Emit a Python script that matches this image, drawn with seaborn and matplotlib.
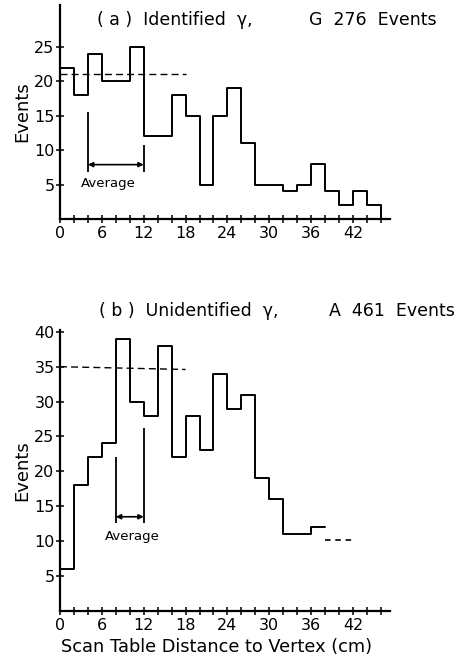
import numpy as np
import pandas as pd
import matplotlib
matplotlib.use("Agg")
import matplotlib.pyplot as plt
import seaborn as sns

# ---- data ----
bin_width = 2
counts_a = [22, 18, 24, 20, 20, 25, 12, 12, 18, 15, 5, 15, 19, 11, 5, 5, 4, 5, 8, 4, 2, 4, 2]
counts_b = [6, 18, 22, 24, 39, 30, 28, 38, 22, 28, 23, 34, 29, 31, 19, 16, 11, 11, 12]
avg_a = [21, 21]            # dashed average level (start, end)
avg_b = [35, 34.6]
avg_span = [0, 18]
tail_b_x = [38, 41.8]       # dashed extrapolation in (b)
tail_b_y = [10.2, 10.2]
xtick_labels = [0, 6, 12, 18, 24, 30, 36, 42]
yticks_a = [5, 10, 15, 20, 25]
yticks_b = [5, 10, 15, 20, 25, 30, 35, 40]
title_a = ("( a )  Identified  γ,", "G  276  Events")
title_b = ("( b )  Unidentified  γ,", "A  461  Events")
xlabel = "Scan Table Distance to Vertex (cm)"
ylabel = "Events"
# average bracket: (left x, left top, right x, right top, bottom, arrow y, text x, text y)
bracket_a = (4, 15.6, 12, 10.8, 6.9, 7.9, 6.9, 5.1)
bracket_b = (8, 22.1, 12, 26.2, 12.6, 13.5, 10.3, 10.7)

sns.set_style("white")
plt.rcParams['font.family'] = ['DejaVu Sans']
plt.rcParams['text.color'] = 'black'
plt.rcParams['axes.labelcolor'] = 'black'
plt.rcParams['xtick.color'] = 'black'
plt.rcParams['ytick.color'] = 'black'
plt.rcParams['lines.scale_dashes'] = False

fig = plt.figure(figsize=(4.57, 6.62), dpi=100)
ax_a = fig.add_axes([60/457, 1-219/662, 330/457, 214/662])
ax_b = fig.add_axes([60/457, 1-611/662, 330/457, (611-330.4)/662])

def step_df(counts):
    edges = np.arange(len(counts) + 1) * bin_width
    y = list(counts) + [counts[-1]]
    return pd.DataFrame({"x": edges, "y": y})

def draw(ax, counts, avg, ylim, yticks, bracket, drop_end):
    df = step_df(counts)
    sns.lineplot(data=df, x="x", y="y", drawstyle="steps-post", estimator=None,
                 sort=False, color="black", lw=1.4, ax=ax)
    if drop_end:
        ax.vlines(df["x"].iloc[-1], 0, counts[-1], color="black", lw=1.4)
    ax.plot(avg_span, avg, color="black", lw=1.0, dashes=(5, 3))
    lx, lt, rx, rt, bot, ay, tx, ty = bracket
    ax.vlines(lx, bot, lt, color="black", lw=1.3)
    ax.vlines(rx, bot, rt, color="black", lw=1.3)
    ax.annotate("", xy=(lx, ay), xytext=(rx, ay),
                arrowprops=dict(arrowstyle="<|-|>", color="black", lw=1.2,
                                mutation_scale=7, shrinkA=0, shrinkB=0))
    ax.text(tx, ty, "Average", ha="center", va="center", fontsize=9.5)
    ax.set_xlim(0, 47.3)
    ax.set_ylim(*ylim)
    ax.set_xticks(xtick_labels)
    ax.set_xticklabels([str(v) for v in xtick_labels])
    ax.set_xticks(np.arange(0, 47, 2), minor=True)
    ax.set_yticks(yticks)
    ax.set_yticklabels([str(v) for v in yticks])
    ax.tick_params(axis="both", which="both", direction="inout", length=6,
                   width=1.1, labelsize=11.5, pad=1, color="black",
                   bottom=True, left=True)
    ax.tick_params(axis="x", which="both", pad=2)
    for s in ["top", "right"]:
        ax.spines[s].set_visible(False)
    for s in ["left", "bottom"]:
        ax.spines[s].set_linewidth(1.6)
        ax.spines[s].set_color("black")
    ax.set_xlabel("")
    ax.set_ylabel(ylabel, fontsize=13, labelpad=2)

draw(ax_a, counts_a, avg_a, (0, 31.1), yticks_a, bracket_a, True)
draw(ax_b, counts_b, avg_b, (0, 40.2), yticks_b, bracket_b, False)
ax_b.plot(tail_b_x, tail_b_y, color="black", lw=1.2, dashes=(4, 3.4))
ax_b.set_xlabel(xlabel, fontsize=12.8)
ax_b.xaxis.set_label_coords(0.475, -0.095)

fig.text(97/457, 1-20/662, title_a[0], ha="left", va="center", fontsize=12.5)
fig.text(437/457, 1-20/662, title_a[1], ha="right", va="center", fontsize=12.5)
fig.text(99/457, 1-311/662, title_b[0], ha="left", va="center", fontsize=12.5)
fig.text(455/457, 1-311/662, title_b[1], ha="right", va="center", fontsize=12.5)

fig.savefig("out.png", dpi=100, facecolor="white")
